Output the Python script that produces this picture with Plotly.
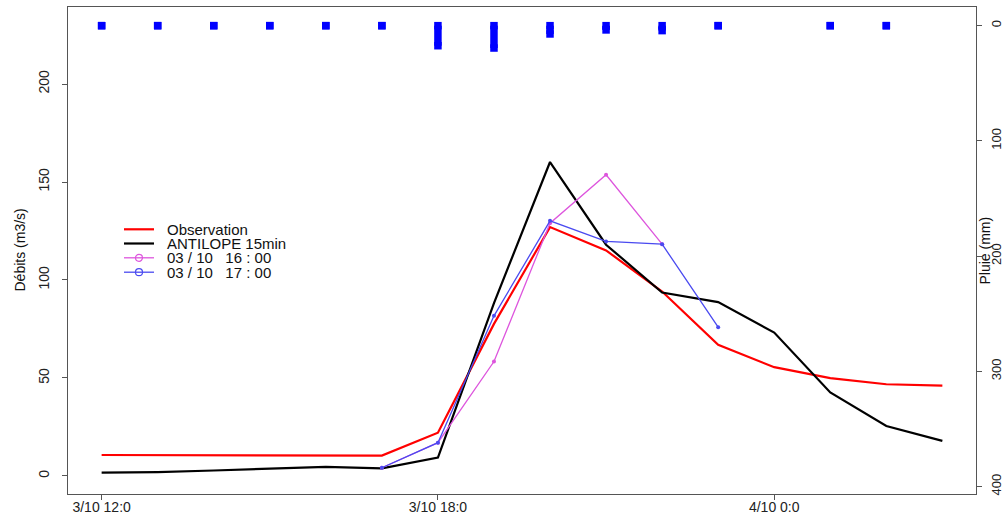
import plotly.graph_objects as go

# ---------------- data ----------------
times = [
    "2021-10-03 12:00", "2021-10-03 13:00", "2021-10-03 14:00", "2021-10-03 15:00",
    "2021-10-03 16:00", "2021-10-03 17:00", "2021-10-03 18:00", "2021-10-03 19:00",
    "2021-10-03 20:00", "2021-10-03 21:00", "2021-10-03 22:00", "2021-10-03 23:00",
    "2021-10-04 00:00", "2021-10-04 01:00", "2021-10-04 02:00", "2021-10-04 03:00",
]
observation = [10.7, 10.6, 10.5, 10.5, 10.4, 10.4, 22.1, 77.6, 127.0, 115.1,
               94.1, 66.9, 55.5, 49.9, 46.8, 46.1]
antilope = [1.7, 2.0, 2.8, 3.6, 4.6, 3.9, 9.4, 88.2, 160.2, 118.0,
            93.6, 88.7, 73.2, 42.6, 25.5, 17.9]
prev_16h = [None, None, None, None, None, 4.2, 17.0, 58.4, 129.0, 153.7,
            118.3, None, None, None, None, None]
prev_17h = [None, None, None, None, None, 4.2, 17.0, 81.7, 130.2, 119.7,
            118.3, 75.9, None, None, None, None]
rain = [0, 0, 0, 0, 0, 0, 17.4, 19.4, 7.2, 3.7, 4.3, 0, None, 0, 0, None]

x_tickvals = ["2021-10-03 12:00", "2021-10-03 18:00", "2021-10-04 00:00"]
x_ticktext = ["3/10 12:0", "3/10 18:0", "4/10 0:0"]
x_range = ["2021-10-03 11:24", "2021-10-04 03:36"]
y_range = [-9.2, 239.3]
y2_range = [406.4, -16.2]

legend_names = ["Observation", "ANTILOPE 15min", "03 / 10   16 : 00", "03 / 10   17 : 00"]
legend_colors = ["#ff0000", "#000000", "#dd55dd", "#4a4af0"]
legend_markers = [False, False, True, True]

FONT = "Liberation Sans, Arial, sans-serif"
AX = "#555555"

fig = go.Figure()

# rain bars (hyetogram, drawn downward from top on reversed secondary axis)
rx, ry, mx, my = [], [], [], []
for t, r in zip(times, rain):
    if r is None:
        continue
    rx += [t, t, None]
    ry += [0, r, None]
    mx += [t, t]
    my += [0, r]
fig.add_trace(go.Scatter(x=rx, y=ry, yaxis="y2", mode="lines",
                         line=dict(color="#0000ff", width=7.5), showlegend=False,
                         hoverinfo="skip"))
fig.add_trace(go.Scatter(x=mx, y=my, yaxis="y2", mode="markers",
                         marker=dict(symbol="square", size=7.5, color="#0000ff",
                                     line=dict(width=0)),
                         showlegend=False, hoverinfo="skip"))

fig.add_trace(go.Scatter(x=times, y=observation, mode="lines", name=legend_names[0],
                         line=dict(color=legend_colors[0], width=2.2)))
fig.add_trace(go.Scatter(x=times, y=antilope, mode="lines", name=legend_names[1],
                         line=dict(color=legend_colors[1], width=2.2)))
fig.add_trace(go.Scatter(x=times, y=prev_16h, mode="lines+markers", name=legend_names[2],
                         line=dict(color=legend_colors[2], width=1.3),
                         marker=dict(size=4, color=legend_colors[2])))
fig.add_trace(go.Scatter(x=times, y=prev_17h, mode="lines+markers", name=legend_names[3],
                         line=dict(color=legend_colors[3], width=1.3),
                         marker=dict(size=4, color=legend_colors[3])))

# ---------------- manual legend (R style, no box) ----------------
L, T, W, H = 68, 7, 908, 487
def px(xp):
    return (xp - L) / W
def py(yp):
    return (T + H - yp) / H

shapes = []
annotations = []
row_y = [229.3, 243.5, 257.8, 272.2]
for i, (name, col, mk) in enumerate(zip(legend_names, legend_colors, legend_markers)):
    y = row_y[i]
    shapes.append(dict(type="line", xref="paper", yref="paper",
                       x0=px(124), x1=px(154), y0=py(y), y1=py(y),
                       line=dict(color=col, width=2.2 if not mk else 1.3)))
    if mk:
        shapes.append(dict(type="circle", xref="paper", yref="paper",
                           x0=px(135.5), x1=px(142.5), y0=py(y + 3.5), y1=py(y - 3.5),
                           line=dict(color=col, width=1.2), fillcolor="rgba(0,0,0,0)"))
    annotations.append(dict(text=name, xref="paper", yref="paper",
                            x=px(166), y=py(y), xanchor="left", yanchor="middle",
                            borderpad=0,
                            showarrow=False, font=dict(family=FONT, size=15, color="#111111")))

# axis titles
annotations.append(dict(text="Débits (m3/s)", xref="paper", yref="paper",
                        x=px(19), y=0.5, xanchor="center", yanchor="middle",
                        textangle=-90, showarrow=False,
                        font=dict(family=FONT, size=14, color="#111111")))
annotations.append(dict(text="Pluie (mm)", xref="paper", yref="paper",
                        x=px(984), y=0.5, xanchor="center", yanchor="middle",
                        textangle=-90, showarrow=False,
                        font=dict(family=FONT, size=14, color="#111111")))

fig.update_layout(
    width=1003, height=515,
    margin=dict(l=L, r=1003 - L - W, t=T, b=515 - T - H, autoexpand=False),
    paper_bgcolor="white", plot_bgcolor="white",
    showlegend=False,
    font=dict(family=FONT, size=14, color="#222222"),
    xaxis=dict(type="date", range=x_range, tickvals=x_tickvals, ticktext=x_ticktext,
               automargin=False,
               showgrid=False, zeroline=False, showline=True, mirror=True,
               linecolor=AX, linewidth=1.3, ticks="outside", ticklen=5,
               ticklabelstandoff=-5,
               tickcolor=AX, tickfont=dict(size=14, color="#222222")),
    yaxis=dict(range=y_range, tickvals=[0, 50, 100, 150, 200], automargin=False,
               showgrid=False, zeroline=False, showline=True, mirror=True,
               linecolor=AX, linewidth=1.3, ticks="outside", ticklen=5,
               ticklabelstandoff=7,
               tickcolor=AX, tickangle=-90, tickfont=dict(size=14, color="#222222")),
    yaxis2=dict(range=y2_range, overlaying="y", side="right", automargin=False,
                tickvals=[0, 100, 200, 300, 400],
                showgrid=False, zeroline=False, showline=True,
                linecolor=AX, linewidth=1.3, ticks="outside", ticklen=5,
                ticklabelstandoff=3,
                tickcolor=AX, tickangle=-90, tickfont=dict(size=13, color="#222222")),
    shapes=shapes,
    annotations=annotations,
)

fig.write_html("out.html", config={"displayModeBar": False},
               post_script="document.body.style.margin='0';")
